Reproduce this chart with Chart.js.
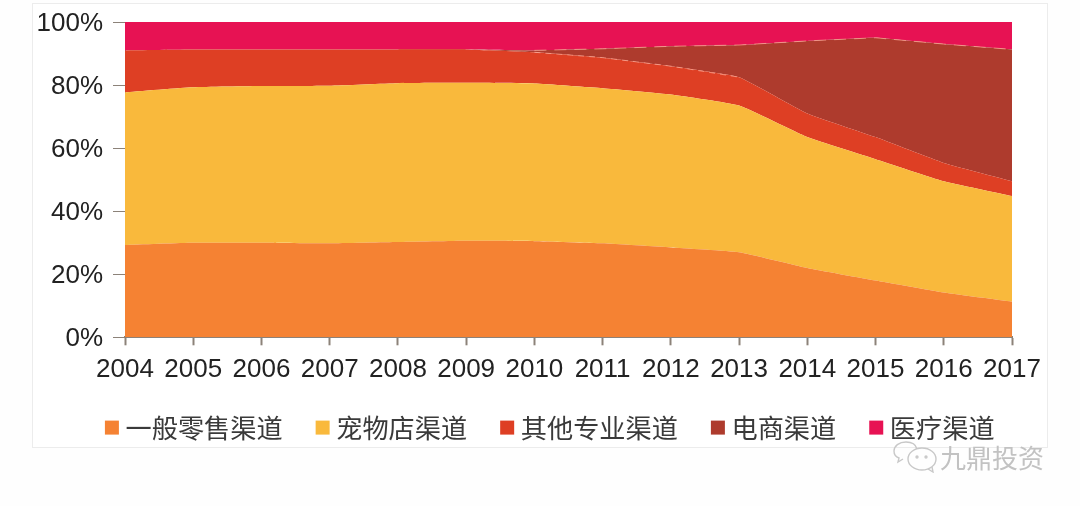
<!DOCTYPE html>
<html lang="zh">
<head>
<meta charset="utf-8">
<script src="https://cdn.jsdelivr.net/npm/chart.js@4"></script>
<style>
html,body{margin:0;padding:0;background:#fefefe;width:1080px;height:506px;overflow:hidden}
#card{position:absolute;left:32px;top:3px;width:1014px;height:443px;background:#fff;border:1px solid #ececec}
#wrap{position:absolute;left:0;top:0;width:1080px;height:506px}
#mark{position:absolute;left:892px;top:438px;width:160px;height:36px;display:flex;align-items:center;color:#c2c2c2;font:26px "Noto Sans CJK SC",sans-serif;white-space:nowrap}
#mark svg{margin-right:2px;flex:none}
</style>
</head>
<body>
<div id="card"></div>
<div id="wrap"><canvas id="c" width="1080" height="506"></canvas></div>
<div id="mark">
<svg width="46" height="34" viewBox="0 0 46 34" fill="none" stroke="#c8c8c8" stroke-width="1.4">
<path d="M14 3C7 3 2 7 2 12c0 3 2 6 5 7l-1 4 5-3"/>
<path d="M14 3c6 0 10 3 11 7"/>
<ellipse cx="30" cy="20" rx="14" ry="11"/>
<path d="M36 30l5 3-1-5"/>
<circle cx="25" cy="18" r="1"/><circle cx="34" cy="18" r="1"/>
</svg><span id="markText"></span>
</div>
<script>
const years = ['2004','2005','2006','2007','2008','2009','2010','2011','2012','2013','2014','2015','2016','2017'];
const yTicks = [0,20,40,60,80,100];
const watermark = '九鼎投资';

const generalRetail = [29.3,30,30,29.8,30.2,30.6,30.5,29.8,28.5,27,22,18,14.2,11.3];
const petStore      = [48.4,49.3,49.7,50,50.4,50.1,50,49.2,48.5,46.5,41.5,38.5,35.3,33.5];
const otherSpecial  = [13.3,12,11.6,11.5,10.7,10.6,9.9,9.7,9,9,7.5,7,5.8,4.7];
const ecommerce     = [0,0,0,0,0,0,0.6,2.8,6.3,10.2,23,31.5,37.7,41.8];
const medical       = [9,8.7,8.7,8.7,8.7,8.7,9,8.5,7.7,7.3,6,5,7,8.7];

const seriesNames = ['一般零售渠道','宠物店渠道','其他专业渠道','电商渠道','医疗渠道'];
const seriesColors = ['#F58233','#F9B93C','#DE3F24','#AE3B2D','#E71253'];
const seriesValues = [generalRetail, petStore, otherSpecial, ecommerce, medical];

document.getElementById('markText').textContent = watermark;

const datasets = seriesValues.map((data, i) => ({
  label: seriesNames[i],
  data,
  backgroundColor: seriesColors[i],
  borderColor: seriesColors[i],
  borderWidth: 0,
  fill: i === 0 ? 'origin' : '-1',
  tension: 0.12,
  pointRadius: 0
}));

// faint dashed seam lines seen in the reference, following the library's own points
const seams = {
  id: 'seams',
  afterDatasetsDraw(chart) {
    const ctx = chart.ctx;
    const draw = (dsIndex, from, to, dash) => {
      const pts = chart.getDatasetMeta(dsIndex).data;
      ctx.save();
      ctx.strokeStyle = 'rgba(255,170,150,0.7)';
      ctx.lineWidth = 1;
      ctx.setLineDash(dash);
      ctx.beginPath();
      for (let i = from; i <= to; i++) {
        if (i === from) ctx.moveTo(pts[i].x, pts[i].y);
        else ctx.lineTo(pts[i].x, pts[i].y);
      }
      ctx.stroke();
      ctx.restore();
    };
    draw(3, 6, 13, [12, 8]);
    draw(2, 6, 9, [6, 5]);
  }
};

// the reference's legend sits closer to the axis and is centred on the whole card
const legendPlace = {
  id: 'legendPlace',
  afterLayout(chart) {
    const lg = chart.legend;
    lg.left = 26;
    lg.right = 1080;
    lg.top = 375;
    lg.bottom = 450;
  }
};

const axisGray = '#8c8279';
const latin = '"Liberation Sans", Arial, sans-serif';

new Chart(document.getElementById('c'), {
  type: 'line',
  data: { labels: years, datasets },
  plugins: [seams, legendPlace],
  options: {
    responsive: false,
    animation: false,
    devicePixelRatio: 1,
    layout: { autoPadding: false, padding: { left: 0, right: 68, top: 22, bottom: 33 } },
    plugins: {
      tooltip: { enabled: false },
      legend: {
        position: 'bottom',
        align: 'center',
        labels: {
          usePointStyle: true,
          pointStyle: 'rect',
          boxWidth: 1,
          boxHeight: 14,
          padding: 39.5,
          color: '#3a3a3a',
          font: { family: '"Noto Sans CJK SC", sans-serif', size: 26.2 }
        }
      }
    },
    scales: {
      x: {
        type: 'category',
        offset: false,
        afterFit(s) { s.height = 60; },
        grid: { drawOnChartArea: false, drawTicks: true, tickLength: 8, tickColor: axisGray, tickWidth: 2 },
        border: { color: axisGray, width: 2 },
        ticks: { autoSkip: false, maxRotation: 0, minRotation: 0, color: '#222', padding: 9, font: { family: latin, size: 26 } }
      },
      y: {
        stacked: true,
        min: 0,
        max: 100,
        afterFit(s) { s.width = 125; s.paddingTop = 0; s.paddingBottom = 0; },
        afterBuildTicks(s) { s.ticks = yTicks.map(v => ({ value: v })); },
        grid: { drawOnChartArea: false, drawTicks: true, tickLength: 12, tickColor: axisGray, tickWidth: 1 },
        border: { color: axisGray, width: 1 },
        ticks: { color: '#222', padding: 10, labelOffset: 2, font: { family: latin, size: 26 }, callback: v => v + '%' }
      }
    }
  }
});
</script>
</body>
</html>
